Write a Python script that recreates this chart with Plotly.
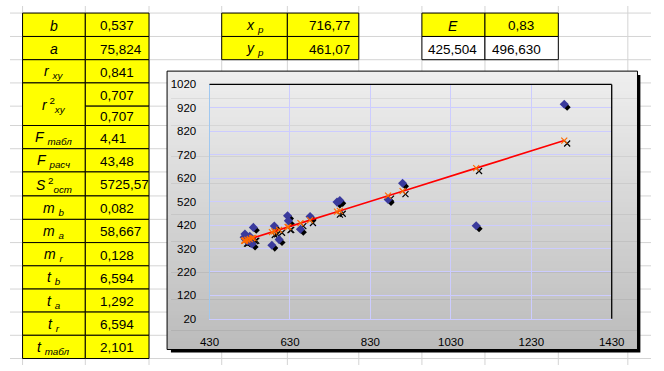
import plotly.graph_objects as go

# ---------------- data ----------------
x_obs = [516, 518, 519, 524, 530, 536, 539, 585, 591, 603, 624, 626, 656, 680, 747, 754, 874, 910, 1093, 1312]
y_obs = [368, 382, 360, 352, 372, 339, 410, 334, 416, 358, 460, 438, 402, 456, 518, 525, 529, 598, 417, 935]
y_fit = [352.9, 354.0, 354.5, 357.2, 360.4, 363.7, 365.3, 390.0, 393.2, 399.6, 410.9, 412.0, 428.1, 441.0,
         477.0, 480.7, 545.2, 564.5, 662.8, 780.4]

param_labels = ['<i>b</i>', '<i>a</i>', '<i>r</i> <sub><i>xy</i></sub>', '<i>r</i><sup> 2</sup><sub><i>xy</i></sub>',
                '<i>F</i> <sub><i>табл</i></sub>', '<i>F</i> <sub><i>расч</i></sub>',
                '<i>S</i><sup> 2</sup><sub><i>ост</i></sub>', '<i>m</i> <sub><i>b</i></sub>',
                '<i>m</i> <sub><i>a</i></sub>', '<i>m</i> <sub><i>r</i></sub>', '<i>t</i> <sub><i>b</i></sub>',
                '<i>t</i> <sub><i>a</i></sub>', '<i>t</i> <sub><i>r</i></sub>', '<i>t</i> <sub><i>табл</i></sub>']
param_values = ['0,537', '75,824', '0,841', '0,707', '0,707', '4,41', '43,48', '5725,57', '0,082', '58,667',
                '0,128', '6,594', '1,292', '6,594', '2,101']
forecast_labels = ['<i>x</i> <sub><i>p</i></sub>', '<i>y</i> <sub><i>p</i></sub>']
forecast_values = ['716,77', '461,07']
e_label = '<i>E</i>'
e_value = '0,83'
interval_values = ['425,504', '496,630']

x_ticks = [430, 630, 830, 1030, 1230, 1430]
y_ticks = [20, 120, 220, 320, 420, 520, 620, 720, 820, 920, 1020]

# ---------------- layout helpers ----------------
W, H = 664, 371
FONT = "Liberation Sans, Arial, sans-serif"


def px(x):
    return x / W


def py(y):
    return 1 - y / H


col_lines = [13, 78, 144, 219.3, 287.3, 361.3, 426.7, 492, 568, 640]
row_lines = [7.3, 31.5, 55.5, 79.5, 103.5, 123.5, 147.5, 171.5, 196.3, 220.5, 244.5, 268.5, 292.5, 316.3,
             340.3, 364.3]
# label row spans (start, end) in row_lines indices
label_spans = [(0, 1), (1, 2), (2, 3), (3, 5), (5, 6), (6, 7), (7, 8), (8, 9), (9, 10), (10, 11), (11, 12),
               (12, 13), (13, 14), (14, 15)]

shapes = []
annotations = []
GRID = '#D4D4D4'
for c in col_lines:
    shapes.append(dict(type='line', xref='paper', yref='paper', x0=px(c), x1=px(c), y0=0, y1=1,
                       line=dict(color=GRID, width=1), layer='below'))
for r in row_lines:
    shapes.append(dict(type='line', xref='paper', yref='paper', x0=0, x1=1, y0=py(r), y1=py(r),
                       line=dict(color=GRID, width=1), layer='below'))


def cell(x0, y0, x1, y1, fill):
    shapes.append(dict(type='rect', xref='paper', yref='paper', x0=px(x0), x1=px(x1), y0=py(y1), y1=py(y0),
                       fillcolor=fill, line=dict(color='black', width=1), layer='below'))


def text(x, y, t, anchor='center', size=13):
    annotations.append(dict(xref='paper', yref='paper', x=px(x), y=py(y), text=t, showarrow=False,
                            xanchor=anchor, yanchor='middle', font=dict(family=FONT, size=size, color='black')))


YEL = '#FFFF00'
# left parameter table
for lab, (a, b) in zip(param_labels, label_spans):
    cell(col_lines[0], row_lines[a], col_lines[1], row_lines[b], YEL)
    text((col_lines[0] + col_lines[1]) / 2, (row_lines[a] + row_lines[b]) / 2 + 1, lab, size=14)
for i, v in enumerate(param_values):
    cell(col_lines[1], row_lines[i], col_lines[2], row_lines[i + 1], YEL)
    text(91, (row_lines[i] + row_lines[i + 1]) / 2 + 1, v, 'left', size=13.5)

# forecast table
for i, (lab, v) in enumerate(zip(forecast_labels, forecast_values)):
    cell(col_lines[3], row_lines[i], col_lines[4], row_lines[i + 1], YEL)
    cell(col_lines[4], row_lines[i], col_lines[5], row_lines[i + 1], YEL)
    text((col_lines[3] + col_lines[4]) / 2, (row_lines[i] + row_lines[i + 1]) / 2 + 1, lab, size=14)
    text(354, (row_lines[i] + row_lines[i + 1]) / 2 + 1, v, 'right', size=13.5)

# E table
cell(col_lines[6], row_lines[0], col_lines[7], row_lines[1], YEL)
cell(col_lines[7], row_lines[0], col_lines[8], row_lines[1], YEL)
text((col_lines[6] + col_lines[7]) / 2, (row_lines[0] + row_lines[1]) / 2 + 1, e_label, size=14)
text((col_lines[7] + col_lines[8]) / 2 - 1, (row_lines[0] + row_lines[1]) / 2 + 1, e_value, size=13.5)
cell(col_lines[6], row_lines[1], col_lines[7], row_lines[2], 'white')
cell(col_lines[7], row_lines[1], col_lines[8], row_lines[2], 'white')
text((col_lines[6] + col_lines[7]) / 2 - 1, (row_lines[1] + row_lines[2]) / 2 + 1, interval_values[0], size=13.5)
text((col_lines[7] + col_lines[8]) / 2 - 5, (row_lines[1] + row_lines[2]) / 2 + 1, interval_values[1], size=13.5)

# chart area: shadow, gradient, border
CX0, CY0, CX1, CY1 = 162.7, 67.3, 650, 355
shapes.append(dict(type='rect', xref='paper', yref='paper', x0=px(CX0 + 4), x1=px(CX1 + 3), y0=py(CY1 + 3),
                   y1=py(CY0 + 4), fillcolor='black', line=dict(width=0), layer='below'))
N = 72
top_c, bot_c = (239, 239, 239), (187, 187, 187)
for k in range(N):
    t = (k + 0.5) / N
    c = tuple(round(top_c[j] + (bot_c[j] - top_c[j]) * t) for j in range(3))
    ya = CY0 + (CY1 - CY0) * k / N
    yb = CY0 + (CY1 - CY0) * (k + 1) / N + 0.6
    shapes.append(dict(type='rect', xref='paper', yref='paper', x0=px(CX0), x1=px(CX1), y0=py(min(yb, CY1)),
                       y1=py(ya), fillcolor='rgb(%d,%d,%d)' % c, line=dict(width=0), layer='below'))
shapes.append(dict(type='rect', xref='paper', yref='paper', x0=px(CX0), x1=px(CX1), y0=py(CY1), y1=py(CY0),
                   line=dict(color='black', width=1), fillcolor='rgba(0,0,0,0)', layer='below'))

# plot area
PX0, PY0, PX1, PY1 = 206.7, 81, 623.3, 323.3
shapes.append(dict(type='line', xref='paper', yref='paper', x0=px(PX0), x1=px(PX1), y0=py(PY0), y1=py(PY0),
                   line=dict(color='black', width=1.3), layer='above'))
shapes.append(dict(type='line', xref='paper', yref='paper', x0=px(PX1), x1=px(PX1), y0=py(PY1), y1=py(PY0),
                   line=dict(color='black', width=1.3), layer='above'))

xr = [x_ticks[0], x_ticks[-1]]
yr = [y_ticks[0], y_ticks[-1]]
# shadow offset of 3 px expressed in axis units
dx = 3 * (xr[1] - xr[0]) / (PX1 - PX0)
dy = 3 * (yr[1] - yr[0]) / (PY1 - PY0)

fig = go.Figure()
# shadows (base axes, shifted range)
fig.add_trace(go.Scatter(x=x_obs, y=y_obs, mode='markers', xaxis='x', yaxis='y', hoverinfo='skip',
                         marker=dict(symbol='square', size=5, color='black', angle=45), showlegend=False))
fig.add_trace(go.Scatter(x=x_obs, y=y_fit, mode='markers', xaxis='x', yaxis='y', hoverinfo='skip',
                         marker=dict(symbol='x-thin', size=6, line=dict(color='black', width=1.2)),
                         showlegend=False))
# visible series
fig.add_trace(go.Scatter(x=x_obs, y=y_obs, mode='markers', xaxis='x2', yaxis='y2', name='y',
                         marker=dict(symbol='diamond', size=7, color='#3A3A9C', line=dict(width=0)),
                         showlegend=False))
fig.add_trace(go.Scatter(x=x_obs, y=y_fit, mode='lines+markers', xaxis='x2', yaxis='y2', name='ŷ',
                         line=dict(color='#FF0000', width=1.6),
                         marker=dict(symbol='x-thin', size=6, line=dict(color='#FF6A00', width=1.2)),
                         showlegend=False))

tickfont = dict(family=FONT, size=11.5, color='black')
fig.update_layout(
    width=W, height=H, margin=dict(l=0, r=0, t=0, b=0),
    paper_bgcolor='white', plot_bgcolor='rgba(0,0,0,0)',
    shapes=shapes, annotations=annotations, showlegend=False,
    xaxis=dict(domain=[px(PX0), px(PX1)], range=[xr[0] - dx, xr[1] - dx], visible=False, anchor='y'),
    yaxis=dict(domain=[py(PY1), py(PY0)], range=[yr[0] + dy, yr[1] + dy], visible=False, anchor='x'),
    xaxis2=dict(overlaying='x', anchor='y2', side='bottom', range=xr, tickmode='array', tickvals=x_ticks,
                showgrid=True, gridcolor='#CCCCFF', gridwidth=1, zeroline=False, showline=True,
                linecolor='#CCCCFF', linewidth=1, ticks='', tickfont=tickfont, ticklabelstandoff=12),
    yaxis2=dict(overlaying='y', anchor='x2', side='left', range=yr, tickmode='array', tickvals=y_ticks,
                showgrid=True, gridcolor='#CCCCFF', gridwidth=1, zeroline=False, showline=True,
                linecolor='#A0C8F0', linewidth=1, ticks='', tickfont=tickfont, ticklabelstandoff=10),
)

fig.write_html("out.html", config={'displayModeBar': False},
               post_script="document.body.style.margin='0';document.body.style.overflow='hidden';")
